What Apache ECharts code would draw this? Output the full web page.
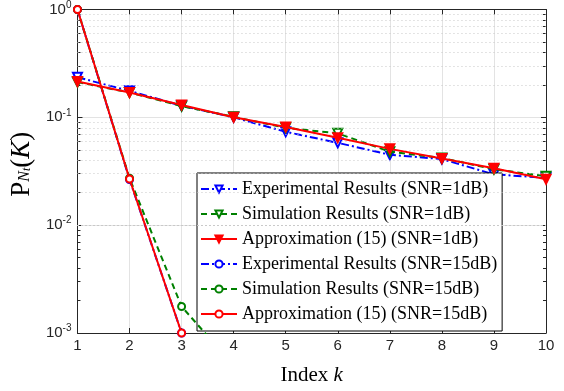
<!DOCTYPE html>
<html>
<head>
<meta charset="utf-8">
<script src="https://cdn.jsdelivr.net/npm/echarts@6/dist/echarts.min.js"></script>
<style>
  html, body { margin: 0; padding: 0; background: #fff; }
  #main { width: 564px; height: 391px; }
</style>
</head>
<body>
<div id="main"></div>
<script>
  // index k
  var kValues = [1, 2, 3, 4, 5, 6, 7, 8, 9, 10];
  // SNR = 1dB
  var exp1  = [0.235, 0.176, 0.128, 0.100, 0.0734, 0.058, 0.045, 0.041, 0.0296, 0.0275];
  var sim1  = [0.212, 0.170, 0.127, 0.101, 0.080, 0.071, 0.048, 0.042, 0.033, 0.0284];
  var app1  = [0.215, 0.170, 0.130, 0.100, 0.0815, 0.0646, 0.051, 0.0415, 0.0337, 0.0267];
  // SNR = 15dB
  var exp15 = [1.0, 0.0265, 0.001];
  var sim15 = [1.0, 0.0272, 0.00176, 0.0005];
  var app15 = [1.0, 0.0268, 0.001];

  var legendNames = [
    'Experimental Results (SNR=1dB)',
    'Simulation Results (SNR=1dB)',
    'Approximation (15) (SNR=1dB)',
    'Experimental Results (SNR=15dB)',
    'Simulation Results (SNR=15dB)',
    'Approximation (15) (SNR=15dB)'
  ];

  function pairs(arr) {
    return arr.map(function (v, i) { return [kValues[i], v]; });
  }

  // dotted minor grid at 2..9 of each decade
  var minorLines = [];
  [0.001, 0.01, 0.1].forEach(function (d) {
    for (var m = 2; m <= 9; m++) minorLines.push({ yAxis: +(d * m).toPrecision(3) });
  });

  var BLUE = '#0000ff', GREEN = '#008000', RED = '#ff0000';
  var axisCol = '#262626';

  function mk(name, data, color, dash, symbol, filled, z) {
    return {
      name: name,
      type: 'line',
      data: pairs(data),
      clip: true,
      z: z,
      symbol: symbol,
      symbolSize: symbol === 'triangle' ? 9 : 7,
      symbolRotate: symbol === 'triangle' ? 180 : 0,
      lineStyle: { color: color, width: 2, type: dash },
      itemStyle: { color: filled ? color : '#fff', borderColor: color, borderWidth: 2 },
      emphasis: { disabled: true }
    };
  }

  var myChart = echarts.init(document.getElementById('main'), null, { renderer: 'canvas' });

  var yLabel = {
    show: true,
    color: axisCol,
    fontFamily: 'Liberation Sans',
    margin: 6,
    formatter: function (v) {
      var e = Math.round(Math.log10(v));
      return '{b|10}{s|' + e + '}';
    },
    rich: {
      b: { fontSize: 15, fontFamily: 'Liberation Sans', color: axisCol },
      s: { fontSize: 10, fontFamily: 'Liberation Sans', color: axisCol, padding: [0, 0, 9, 0] }
    }
  };

  var option = {
    animation: false,
    backgroundColor: '#fff',
    grid: { left: 77, right: 18, top: 7, bottom: 56 },
    legend: {
      data: legendNames,
      orient: 'vertical',
      left: 197,
      top: 173,
      backgroundColor: '#fff',
      borderColor: '#000',
      borderWidth: 1,
      padding: [7, 5, 8, 3],
      itemGap: 7,
      itemWidth: 36,
      itemHeight: 9,
      textStyle: { fontFamily: 'Liberation Serif', fontSize: 18, color: '#000' },
      selectedMode: false
    },
    xAxis: [{
      type: 'value',
      min: 1, max: 10, interval: 1,
      name: '{a|Index }{k|k}',
      nameLocation: 'middle',
      nameGap: 32,
      nameTextStyle: {
        rich: {
          a: { fontFamily: 'Liberation Serif', fontSize: 21, color: '#000' },
          k: { fontFamily: 'Liberation Serif', fontStyle: 'italic', fontSize: 21, color: '#000' }
        }
      },
      axisLine: { lineStyle: { color: axisCol, width: 1 } },
      axisTick: { inside: true, length: 5, lineStyle: { color: axisCol } },
      axisLabel: { color: axisCol, fontFamily: 'Liberation Sans', fontSize: 15, margin: 5 },
      splitLine: { show: true, lineStyle: { color: '#e3e3e3', width: 1 } }
    }, {
      type: 'value', position: 'top',
      min: 1, max: 10, interval: 1,
      axisLine: { show: true, lineStyle: { color: axisCol, width: 1 } },
      axisTick: { inside: true, length: 5, lineStyle: { color: axisCol } },
      axisLabel: { show: false },
      splitLine: { show: false }
    }],
    yAxis: [{
      type: 'log',
      min: 0.001, max: 1,
      logBase: 10,
      name: '{p|P}{n|N}{t|t}{p|(}{k|K}{p|)}',
      nameLocation: 'middle',
      nameRotate: 90,
      nameGap: 40,
      nameTextStyle: {
        padding: [0, 0, 0, 14],
        rich: {
          p: { fontFamily: 'Liberation Serif', fontSize: 27, color: '#000' },
          k: { fontFamily: 'Liberation Serif', fontStyle: 'italic', fontSize: 27, color: '#000' },
          n: { fontFamily: 'Liberation Serif', fontStyle: 'italic', fontSize: 16, color: '#000', padding: [0, 0, -7, 0] },
          t: { fontFamily: 'Liberation Serif', fontStyle: 'italic', fontSize: 12, color: '#000', padding: [0, 0, -11, 0] }
        }
      },
      axisLine: { show: true, lineStyle: { color: axisCol, width: 1 } },
      axisTick: { inside: true, length: 5, lineStyle: { color: axisCol } },
      minorTick: { show: true, splitNumber: 9, length: 3, lineStyle: { color: axisCol } },
      axisLabel: yLabel,
      splitLine: { show: true, lineStyle: { color: '#e3e3e3', width: 1 } }
    }, {
      type: 'log', position: 'right',
      min: 0.001, max: 1,
      axisLine: { show: true, lineStyle: { color: axisCol, width: 1 } },
      axisTick: { inside: true, length: 5, lineStyle: { color: axisCol } },
      minorTick: { show: true, splitNumber: 9, length: 3, lineStyle: { color: axisCol } },
      axisLabel: { show: false },
      splitLine: { show: false }
    }],
    series: [
      {
        type: 'line', data: [], silent: true, z: 1,
        markLine: {
          silent: true, symbol: 'none', animation: false,
          label: { show: false },
          lineStyle: { color: '#c8c8c8', type: [1, 3], width: 1 },
          data: minorLines
        }
      },
      mk(legendNames[0], exp1,  BLUE,  [8, 3, 2, 3], 'triangle', false, 3),
      mk(legendNames[1], sim1,  GREEN, [6, 4],       'triangle', false, 4),
      mk(legendNames[2], app1,  RED,   'solid',      'triangle', true,  5),
      mk(legendNames[3], exp15, BLUE,  [8, 3, 2, 3], 'circle',   false, 3),
      mk(legendNames[4], sim15, GREEN, [6, 4],       'circle',   false, 4),
      mk(legendNames[5], app15, RED,   'solid',      'circle',   false, 5)
    ]
  };

  myChart.setOption(option);
  window.addEventListener('resize', function () { myChart.resize(); });
</script>
</body>
</html>
